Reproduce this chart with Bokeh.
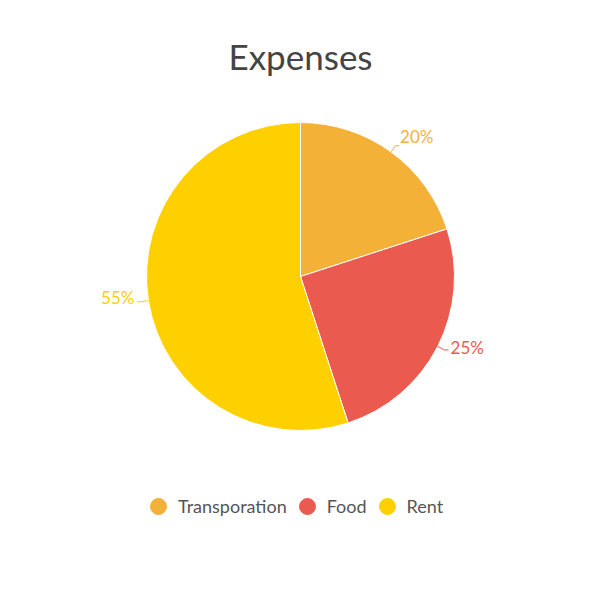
import math
from bokeh.plotting import figure
from bokeh.models import Range1d, Legend, LegendItem, Label, ColumnDataSource
from bokeh.core.properties import value
from bokeh.embed import file_html
from bokeh.resources import INLINE

title = "Expenses"
categories = ["Transporation", "Food", "Rent"]
shares = [20, 25, 55]
colors = ["#F3B137", "#EB5A4E", "#FFD000"]

FONT = "Lato"
W = H = 600
R_PX = 154.0
CX, CY = 300.0, 276.0  # pie centre within canvas (pixels)

p = figure(width=W, height=H, output_backend="svg", toolbar_location=None,
           x_range=Range1d(-CX / R_PX, (W - CX) / R_PX),
           y_range=Range1d(-(H - CY) / R_PX, CY / R_PX),
           min_border=0, outline_line_color=None)
p.axis.visible = False
p.grid.visible = False
p.background_fill_color = "white"

total = float(sum(shares))
starts, ends, mids = [], [], []
cum = 0.0
for s in shares:
    a0 = math.pi / 2 - 2 * math.pi * cum / total
    cum += s
    a1 = math.pi / 2 - 2 * math.pi * cum / total
    starts.append(a0)
    ends.append(a1)
    mids.append((a0 + a1) / 2)

src = ColumnDataSource(dict(start=starts, end=ends, color=colors, cat=categories))
p.wedge(x=0, y=0, radius=1, start_angle="start", end_angle="end", direction="clock",
        fill_color="color", line_color="white", line_width=1, source=src)

# leader lines and percentage labels
xs, ys = [], []
lx, ly, lt, la, lc = [], [], [], [], []
for s, m, c in zip(shares, mids, colors):
    cx, cy = math.cos(m), math.sin(m)
    sgn = 1 if cx > 0 else -1
    xs.append([cx * 1.0, cx * 1.05, cx * 1.05 + sgn * 0.025])
    ys.append([cy * 1.0, cy * 1.05, cy * 1.05])
    lx.append(cx * 1.08 + sgn * 0.012)
    ly.append(cy * 1.08)
    lt.append(f"{s}%")
    la.append("left" if cx > 0 else "right")
    lc.append(c)
p.multi_line(xs=xs, ys=ys, line_color=lc, line_width=1)
p.text(x=lx, y=ly, text=lt, text_align=la, text_baseline="middle", text_color=lc,
       text_font=value(FONT), text_font_size="17px", y_offset=-5)

# title
p.add_layout(Label(x=W / 2, y=H - 55, x_units="screen", y_units="screen", text=title,
                   text_align="center", text_baseline="middle", text_font=FONT,
                   text_font_size="35px", text_color="#444444"))

# legend with circle markers (marker glyphs placed outside the visible range)
items = []
for cat, c in zip(categories, colors):
    r = p.scatter(x=[100], y=[100], marker="circle", size=16, fill_color=c, line_color=c)
    items.append(LegendItem(label=cat, renderers=[r]))
legend = Legend(items=items, orientation="horizontal", location=(138, 74),
                glyph_width=40, glyph_height=40, label_standoff=0, spacing=0,
                padding=0, margin=0, border_line_color=None,
                background_fill_alpha=0, label_text_font=FONT,
                label_text_font_size="18px", label_text_color="#555555")
p.add_layout(legend, "center")

open("out.html", "w").write(file_html(p, INLINE))
